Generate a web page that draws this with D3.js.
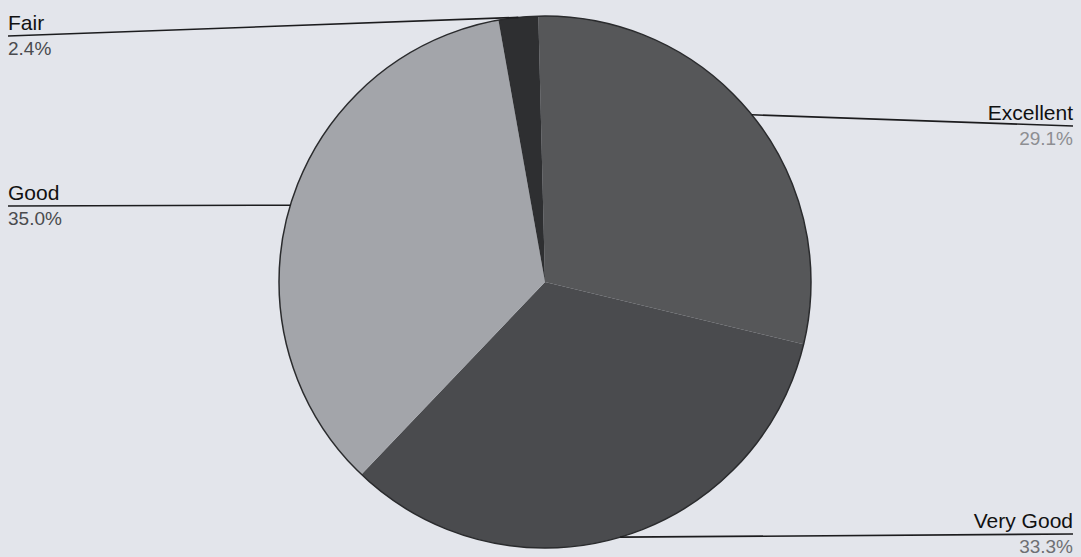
<!DOCTYPE html>
<html lang="en">
<head>
    <meta charset="UTF-8">
    <title>Rating Pie</title>
    <script src="https://d3js.org/d3.v7.min.js"></script>
    <style>
        body {
            margin: 0;
            padding: 0;
            background-color: #e3e5eb;
            font-family: 'Liberation Sans', Arial, sans-serif;
        }

        .name {
            font-size: 21px;
            fill: #111;
        }

        .pct {
            font-size: 19px;
        }
    </style>
</head>
<body>
    <svg id="chart" width="1081" height="557"></svg>

    <script>
        // Data
        const categories = ["Excellent", "Very Good", "Good", "Fair"];
        const percents = [29.1, 33.3, 35.0, 2.4];
        const pctLabels = ["29.1%", "33.3%", "35.0%", "2.4%"];

        // Colours / label layout
        const colors = ["#565759", "#4a4b4e", "#a3a5aa", "#2e2f31"];
        const labelSide = ["right", "right", "left", "left"];
        const labelLineY = [126, 534, 206, 36];
        const pctColors = ["#8d8e92", "#6e6f73", "#4a4b4e", "#4a4b4e"];

        const svg = d3.select("#chart");
        const W = +svg.attr("width");
        const cx = 545, cy = 282, R = 266;
        const tilt = -0.025; // the printed pie is turned a little

        const pie = d3.pie().sort(null).value(d => d)
            .startAngle(tilt).endAngle(2 * Math.PI + tilt)(percents);
        const arc = d3.arc().innerRadius(0).outerRadius(R);

        const g = svg.append("g").attr("transform", `translate(${cx},${cy})`);

        g.selectAll("path")
            .data(pie)
            .join("path")
            .attr("d", arc)
            .attr("fill", (d, i) => colors[i]);

        g.append("circle")
            .attr("r", R)
            .attr("fill", "none")
            .attr("stroke", "#2a2b2d")
            .attr("stroke-width", 1.5);

        // Leader lines and labels
        const pointOnArc = d => {
            const a = (d.startAngle + d.endAngle) / 2;
            return [cx + R * Math.sin(a), cy - R * Math.cos(a)];
        };

        pie.forEach((d, i) => {
            const [px, py] = pointOnArc(d);
            const right = labelSide[i] === "right";
            const edgeX = right ? W - 8 : 8;
            const y = labelLineY[i];

            svg.append("line")
                .attr("x1", px).attr("y1", py)
                .attr("x2", edgeX).attr("y2", y)
                .attr("stroke", "#1c1c1e")
                .attr("stroke-width", 1.6);

            svg.append("text")
                .attr("class", "name")
                .attr("x", edgeX)
                .attr("y", y - 6)
                .attr("text-anchor", right ? "end" : "start")
                .text(categories[i]);

            svg.append("text")
                .attr("class", "pct")
                .attr("x", edgeX)
                .attr("y", y + 19)
                .attr("text-anchor", right ? "end" : "start")
                .attr("fill", pctColors[i])
                .text(pctLabels[i]);
        });
    </script>
</body>
</html>
